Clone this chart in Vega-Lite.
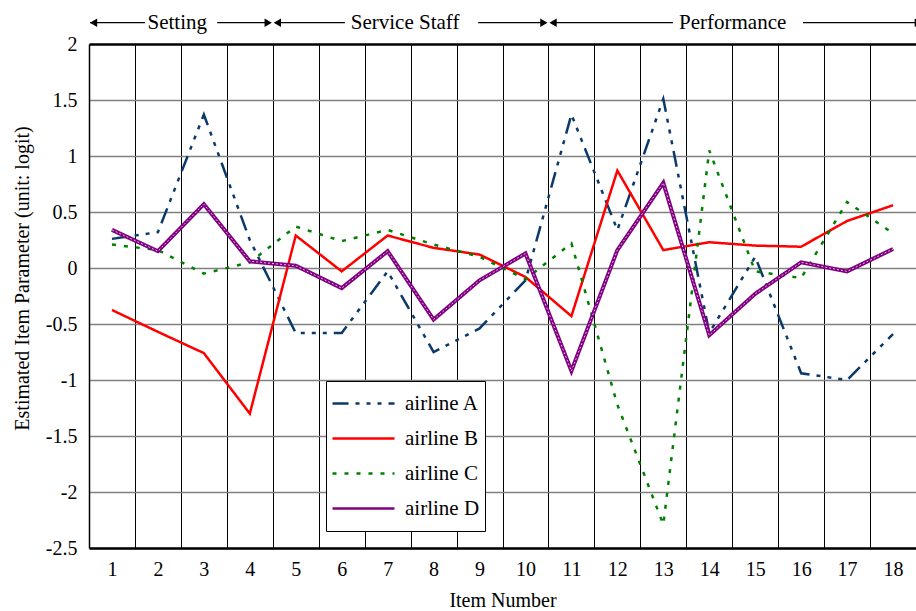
{
  "$schema": "https://vega.github.io/schema/vega-lite/v6.json",
  "width": 827,
  "height": 504,
  "autosize": {"type": "none"},
  "padding": {"left": 89, "top": 44, "right": 0, "bottom": 63},
  "background": "white",
  "config": {
    "font": "Liberation Serif",
    "view": {"stroke": null},
    "legend": {
      "orient": "none",
      "legendX": 237,
      "legendY": 337,
      "title": null,
      "symbolType": "stroke",
      "symbolSize": 3844,
      "symbolStrokeWidth": 2.5,
      "clipHeight": 35,
      "rowPadding": 0,
      "labelFontSize": 21,
      "labelColor": "black",
      "labelFont": "Liberation Serif",
      "strokeColor": "black",
      "fillColor": "white",
      "padding": 5,
      "labelOffset": 9
    }
  },
  "datasets": {
    "items": [
      {"item": 1, "airline": "airline A", "value": 0.26},
      {"item": 2, "airline": "airline A", "value": 0.32},
      {"item": 3, "airline": "airline A", "value": 1.37},
      {"item": 4, "airline": "airline A", "value": 0.25},
      {"item": 5, "airline": "airline A", "value": -0.58},
      {"item": 6, "airline": "airline A", "value": -0.58},
      {"item": 7, "airline": "airline A", "value": -0.03},
      {"item": 8, "airline": "airline A", "value": -0.75},
      {"item": 9, "airline": "airline A", "value": -0.54},
      {"item": 10, "airline": "airline A", "value": -0.11},
      {"item": 11, "airline": "airline A", "value": 1.37},
      {"item": 12, "airline": "airline A", "value": 0.34},
      {"item": 13, "airline": "airline A", "value": 1.51},
      {"item": 14, "airline": "airline A", "value": -0.58},
      {"item": 15, "airline": "airline A", "value": 0.1},
      {"item": 16, "airline": "airline A", "value": -0.94},
      {"item": 17, "airline": "airline A", "value": -1.0},
      {"item": 18, "airline": "airline A", "value": -0.59},
      {"item": 1, "airline": "airline B", "value": -0.375},
      {"item": 2, "airline": "airline B", "value": -0.57},
      {"item": 3, "airline": "airline B", "value": -0.76},
      {"item": 4, "airline": "airline B", "value": -1.3},
      {"item": 5, "airline": "airline B", "value": 0.29},
      {"item": 6, "airline": "airline B", "value": -0.03},
      {"item": 7, "airline": "airline B", "value": 0.29},
      {"item": 8, "airline": "airline B", "value": 0.18},
      {"item": 9, "airline": "airline B", "value": 0.12},
      {"item": 10, "airline": "airline B", "value": -0.08},
      {"item": 11, "airline": "airline B", "value": -0.43},
      {"item": 12, "airline": "airline B", "value": 0.87},
      {"item": 13, "airline": "airline B", "value": 0.16},
      {"item": 14, "airline": "airline B", "value": 0.23},
      {"item": 15, "airline": "airline B", "value": 0.2},
      {"item": 16, "airline": "airline B", "value": 0.19},
      {"item": 17, "airline": "airline B", "value": 0.42},
      {"item": 18, "airline": "airline B", "value": 0.56},
      {"item": 1, "airline": "airline C", "value": 0.21},
      {"item": 2, "airline": "airline C", "value": 0.16},
      {"item": 3, "airline": "airline C", "value": -0.05},
      {"item": 4, "airline": "airline C", "value": 0.05},
      {"item": 5, "airline": "airline C", "value": 0.37},
      {"item": 6, "airline": "airline C", "value": 0.24},
      {"item": 7, "airline": "airline C", "value": 0.34},
      {"item": 8, "airline": "airline C", "value": 0.21},
      {"item": 9, "airline": "airline C", "value": 0.1},
      {"item": 10, "airline": "airline C", "value": -0.1},
      {"item": 11, "airline": "airline C", "value": 0.22},
      {"item": 12, "airline": "airline C", "value": -1.22},
      {"item": 13, "airline": "airline C", "value": -2.29},
      {"item": 14, "airline": "airline C", "value": 1.05},
      {"item": 15, "airline": "airline C", "value": -0.03},
      {"item": 16, "airline": "airline C", "value": -0.09},
      {"item": 17, "airline": "airline C", "value": 0.59},
      {"item": 18, "airline": "airline C", "value": 0.31},
      {"item": 1, "airline": "airline D", "value": 0.34},
      {"item": 2, "airline": "airline D", "value": 0.15},
      {"item": 3, "airline": "airline D", "value": 0.57},
      {"item": 4, "airline": "airline D", "value": 0.06},
      {"item": 5, "airline": "airline D", "value": 0.02},
      {"item": 6, "airline": "airline D", "value": -0.18},
      {"item": 7, "airline": "airline D", "value": 0.15},
      {"item": 8, "airline": "airline D", "value": -0.46},
      {"item": 9, "airline": "airline D", "value": -0.11},
      {"item": 10, "airline": "airline D", "value": 0.13},
      {"item": 11, "airline": "airline D", "value": -0.92},
      {"item": 12, "airline": "airline D", "value": 0.16},
      {"item": 13, "airline": "airline D", "value": 0.76},
      {"item": 14, "airline": "airline D", "value": -0.6},
      {"item": 15, "airline": "airline D", "value": -0.23},
      {"item": 16, "airline": "airline D", "value": 0.05},
      {"item": 17, "airline": "airline D", "value": -0.03},
      {"item": 18, "airline": "airline D", "value": 0.17}
    ],
    "segments": [
      {"item": 0.52, "item2": 1.72},
      {"item": 3.29, "item2": 4.44},
      {"item": 4.56, "item2": 6.07},
      {"item": 8.97, "item2": 10.44},
      {"item": 10.56, "item2": 13.21},
      {"item": 16.04, "item2": 18.5}
    ],
    "heads": [
      {"item": 0.6, "dir": "left"},
      {"item": 4.4, "dir": "right"},
      {"item": 4.6, "dir": "left"},
      {"item": 10.4, "dir": "right"},
      {"item": 10.6, "dir": "left"},
      {"item": 18.55, "dir": "right"}
    ],
    "groups": [
      {"item": 2.42, "label": "Setting"},
      {"item": 7.38, "label": "Service Staff"},
      {"item": 14.51, "label": "Performance"}
    ]
  },
  "resolve": {"axis": {"x": "independent"}},
  "layer": [
    {
      "data": {"name": "items"},
      "transform": [{"filter": "datum.airline === 'airline D'"}],
      "mark": {"type": "line", "strokeWidth": 4, "color": "#800080", "opacity": 0},
      "encoding": {
        "x": {
          "field": "item",
          "type": "quantitative",
          "scale": {"domain": [0.5, 18.5], "nice": false, "zero": false},
          "axis": {
            "orient": "top",
            "title": null,
            "values": [1.5, 2.5, 3.5, 4.5, 5.5, 6.5, 7.5, 8.5, 9.5, 10.5, 11.5, 12.5, 13.5, 14.5, 15.5, 16.5, 17.5],
            "labels": false,
            "ticks": false,
            "domain": false,
            "grid": true,
            "gridColor": "black",
            "gridWidth": 1,
            "gridOpacity": 1
          }
        },
        "y": {"field": "value", "type": "quantitative"}
      }
    },
    {
      "data": {"name": "items"},
      "mark": {"type": "line", "strokeWidth": 2.5},
      "encoding": {
        "x": {
          "field": "item",
          "type": "quantitative",
          "axis": {
            "orient": "bottom",
            "title": "Item Number",
            "values": [1, 2, 3, 4, 5, 6, 7, 8, 9, 10, 11, 12, 13, 14, 15, 16, 17, 18],
            "labelExpr": "'' + datum.value",
            "grid": false,
            "ticks": false,
            "domainColor": "black",
            "domainWidth": 2.5,
            "labelFontSize": 20,
            "labelColor": "black",
            "labelPadding": 11,
            "labelFlush": false,
            "titleFontSize": 20,
            "titleFontWeight": "normal",
            "titleColor": "black",
            "titlePadding": 11
          }
        },
        "y": {
          "field": "value",
          "type": "quantitative",
          "scale": {"domain": [-2.5, 2], "nice": false, "zero": false},
          "axis": {
            "title": "Estimated Item Parameter (unit: logit)",
            "values": [-2.5, -2, -1.5, -1, -0.5, 0, 0.5, 1, 1.5, 2],
            "labelExpr": "'' + datum.value",
            "grid": true,
            "gridColor": {"condition": {"test": "datum.value === 2", "value": "black"}, "value": "#808080"},
            "gridWidth": {"condition": {"test": "datum.value === 2", "value": 2.5}, "value": 1.5},
            "ticks": false,
            "domainColor": "black",
            "domainWidth": 1.5,
            "labelFontSize": 20,
            "labelColor": "black",
            "labelPadding": 12,
            "titleFontSize": 20,
            "titleFontWeight": "normal",
            "titleColor": "black",
            "titlePadding": 13,
            "titleY": 234
          }
        },
        "color": {
          "field": "airline",
          "type": "nominal",
          "scale": {"domain": ["airline A", "airline B", "airline C", "airline D"], "range": ["#0b3a6a", "#ff0000", "#008000", "#800080"]}
        },
        "strokeDash": {
          "field": "airline",
          "type": "nominal",
          "scale": {"domain": ["airline A", "airline B", "airline C", "airline D"], "range": [[16, 7, 4, 7, 4, 7, 4, 7], [1, 0], [4, 8], [1, 0]]}
        }
      }
    },
    {
      "data": {"name": "items"},
      "transform": [{"filter": "datum.airline === 'airline D'"}],
      "mark": {"type": "line", "strokeWidth": 4, "color": "#800080"},
      "encoding": {
        "x": {"field": "item", "type": "quantitative", "axis": null},
        "y": {"field": "value", "type": "quantitative"}
      }
    },
    {
      "data": {"name": "items"},
      "transform": [{"filter": "datum.airline === 'airline D'"}],
      "mark": {"type": "line", "strokeWidth": 1, "color": "#e4b4e4", "strokeDash": [2, 2]},
      "encoding": {
        "x": {"field": "item", "type": "quantitative", "axis": null},
        "y": {"field": "value", "type": "quantitative"}
      }
    },
    {
      "data": {"name": "segments"},
      "mark": {"type": "rule", "color": "black", "strokeWidth": 1.3},
      "encoding": {
        "x": {"field": "item", "type": "quantitative", "axis": null},
        "x2": {"field": "item2"},
        "y": {"datum": 2.19, "type": "quantitative"}
      }
    },
    {
      "data": {"name": "heads"},
      "mark": {"type": "point", "filled": true, "color": "black", "opacity": 1, "size": 70},
      "encoding": {
        "x": {"field": "item", "type": "quantitative", "axis": null},
        "y": {"datum": 2.19, "type": "quantitative"},
        "shape": {"field": "dir", "type": "nominal", "scale": {"domain": ["left", "right"], "range": ["triangle-left", "triangle-right"]}, "legend": null}
      }
    },
    {
      "data": {"name": "groups"},
      "mark": {"type": "text", "fontSize": 21, "color": "black", "baseline": "middle", "align": "center"},
      "encoding": {
        "x": {"field": "item", "type": "quantitative", "axis": null},
        "y": {"datum": 2.19, "type": "quantitative"},
        "text": {"field": "label"}
      }
    }
  ]
}
